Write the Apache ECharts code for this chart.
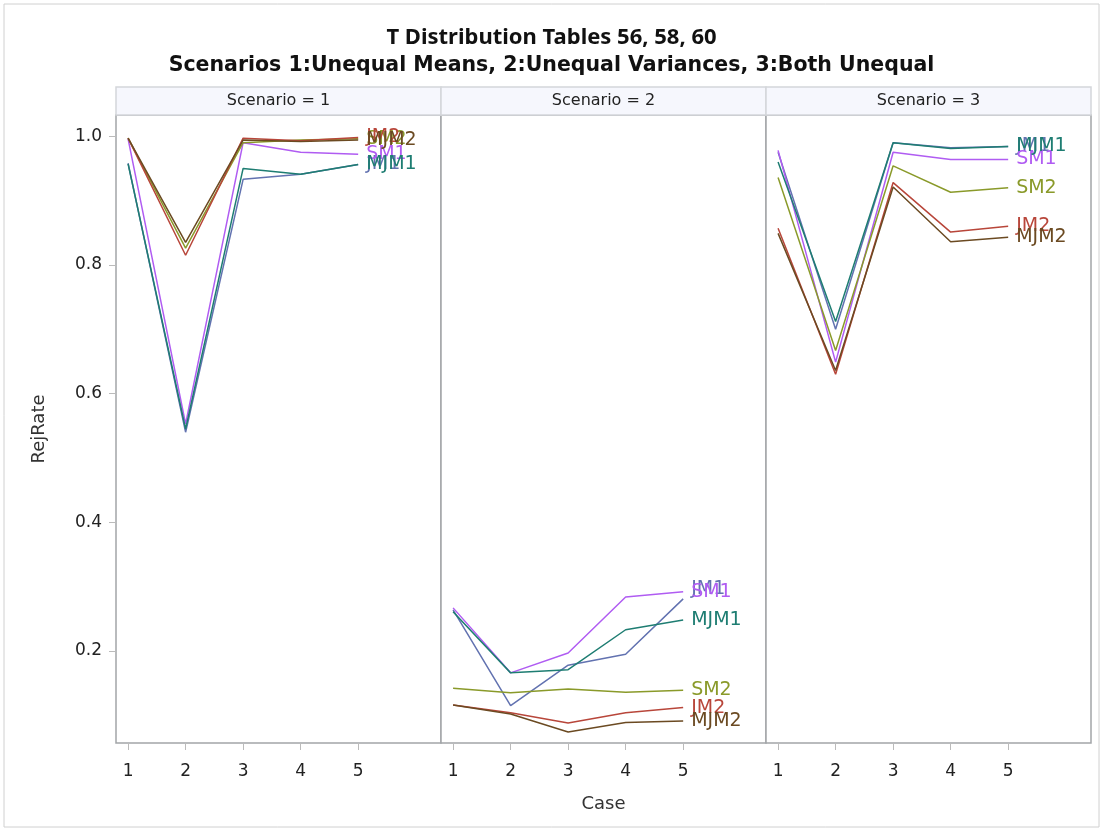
<!DOCTYPE html>
<html>
<head>
<meta charset="utf-8">
<script src="https://cdn.jsdelivr.net/npm/echarts@6/dist/echarts.min.js"></script>
<style>
  html, body { margin: 0; padding: 0; background: #fff; }
  #chart { width: 1103px; height: 831px; }
</style>
</head>
<body>
<div id="chart"></div>
<script>
// data
const cases = [1, 2, 3, 4, 5];
const methods = ['JM1', 'SM1', 'MJM1', 'SM2', 'JM2', 'MJM2'];
const colors = ['#6272B0', '#B05CF2', '#1E7D72', '#8A9A2A', '#B8463A', '#6B4A22'];
const panelTitles = ['Scenario = 1', 'Scenario = 2', 'Scenario = 3'];
const yTicks = [0.2, 0.4, 0.6, 0.8, 1.0];

// rows follow the order of methods
const scenario1 = [
    [0.958, 0.540, 0.933, 0.941, 0.956],
    [0.996, 0.553, 0.990, 0.975, 0.972],
    [0.957, 0.545, 0.950, 0.941, 0.956],
    [0.997, 0.826, 0.990, 0.994, 0.996],
    [0.997, 0.815, 0.997, 0.993, 0.998],
    [0.997, 0.835, 0.994, 0.992, 0.994]
];
const scenario2 = [
    [0.264, 0.115, 0.178, 0.195, 0.281],
    [0.267, 0.166, 0.197, 0.284, 0.292],
    [0.261, 0.166, 0.171, 0.233, 0.248],
    [0.142, 0.135, 0.141, 0.136, 0.139],
    [0.116, 0.104, 0.088, 0.104, 0.112],
    [0.116, 0.102, 0.074, 0.089, 0.091]
];
const scenario3 = [
    [0.975, 0.700, 0.990, 0.982, 0.984],
    [0.978, 0.649, 0.975, 0.964, 0.964],
    [0.960, 0.712, 0.990, 0.981, 0.984],
    [0.936, 0.667, 0.954, 0.913, 0.920],
    [0.857, 0.630, 0.928, 0.851, 0.860],
    [0.849, 0.636, 0.921, 0.836, 0.843]
];
const scenarios = [scenario1, scenario2, scenario3];

const panelLeft = 116, panelW = 325, panelTop = 115, panelH = 628, stripH = 28;
const fontFam = '"DejaVu Sans", sans-serif';

var grids = [], xAxes = [], yAxes = [], series = [], graphics = [];

for (var p = 0; p < 3; p++) {
    var left = panelLeft + p * panelW;
    grids.push({
        left: left, top: panelTop, width: panelW, height: panelH,
        show: true, borderColor: '#a2a5a8', borderWidth: 1.5, backgroundColor: '#fff'
    });
    xAxes.push({
        type: 'value', gridIndex: p, min: 0.79, max: 6.44,
        name: p == 1 ? 'Case' : '', nameLocation: 'middle', nameGap: 52,
        nameTextStyle: { fontSize: 18, color: '#333', fontFamily: fontFam },
        axisLine: { show: false },
        splitLine: { show: false },
        axisTick: { show: true, length: 7, lineStyle: { color: '#bbb' }, customValues: cases },
        axisLabel: { fontSize: 17, color: '#222', margin: 20, fontFamily: fontFam, customValues: cases }
    });
    yAxes.push({
        type: 'value', gridIndex: p, min: 0.057, max: 1.033,
        name: p == 0 ? 'RejRate' : '', nameLocation: 'middle', nameGap: 68,
        nameTextStyle: { fontSize: 18, color: '#333', fontFamily: fontFam },
        axisLine: { show: false },
        splitLine: { show: false },
        axisTick: { show: p == 0, length: 7, lineStyle: { color: '#bbb' }, customValues: yTicks },
        axisLabel: {
            show: p == 0, fontSize: 17, color: '#222', margin: 14, fontFamily: fontFam,
            customValues: yTicks,
            formatter: function(v) { return v.toFixed(1); }
        }
    });
    // header strip
    graphics.push({
        type: 'rect',
        shape: { x: left, y: panelTop - stripH, width: panelW, height: stripH },
        style: { fill: '#F6F7FD', stroke: '#d4d6da', lineWidth: 1.5 }
    });
    graphics.push({
        type: 'text', x: left + panelW / 2, y: panelTop - stripH / 2,
        style: {
            text: panelTitles[p], fill: '#222', fontSize: 16, fontFamily: fontFam,
            textAlign: 'center', textVerticalAlign: 'middle'
        }
    });
    scenarios[p].forEach(function(row, i) {
        // JM1 label sits just above SM1 in the middle panel
        var labelOffset = (p == 1 && i == 0) ? [0, -10] : [0, 0];
        series.push({
            name: methods[i],
            type: 'line',
            xAxisIndex: p, yAxisIndex: p,
            data: cases.map(function(c, k) { return [c, row[k]]; }),
            symbol: 'none',
            lineStyle: { width: 1.5, color: colors[i] },
            itemStyle: { color: colors[i] },
            endLabel: {
                show: true, formatter: methods[i], color: colors[i],
                fontSize: 19, fontFamily: fontFam, distance: 8, offset: labelOffset
            },
            animation: false
        });
    });
}

graphics.push({
    type: 'rect', silent: true,
    shape: { x: 4, y: 4, width: 1095, height: 823 },
    style: { fill: 'none', stroke: '#d0d0d0', lineWidth: 1 }
});

var myChart = echarts.init(document.getElementById('chart'));
var option = {
    backgroundColor: '#fff',
    animation: false,
    title: [{
        text: 'T Distribution Tables 56, 58, 60',
        left: 'center', top: 22,
        textStyle: { fontSize: 22, fontWeight: 'bold', color: '#111', fontFamily: '"Noto Sans", sans-serif' }
    }, {
        text: 'Scenarios 1:Unequal Means, 2:Unequal Variances, 3:Both Unequal',
        left: 'center', top: 50,
        textStyle: { fontSize: 20.5, fontWeight: 'bold', color: '#111', fontFamily: fontFam }
    }],
    grid: grids,
    xAxis: xAxes,
    yAxis: yAxes,
    series: series,
    graphic: graphics
};
myChart.setOption(option);
</script>
</body>
</html>
